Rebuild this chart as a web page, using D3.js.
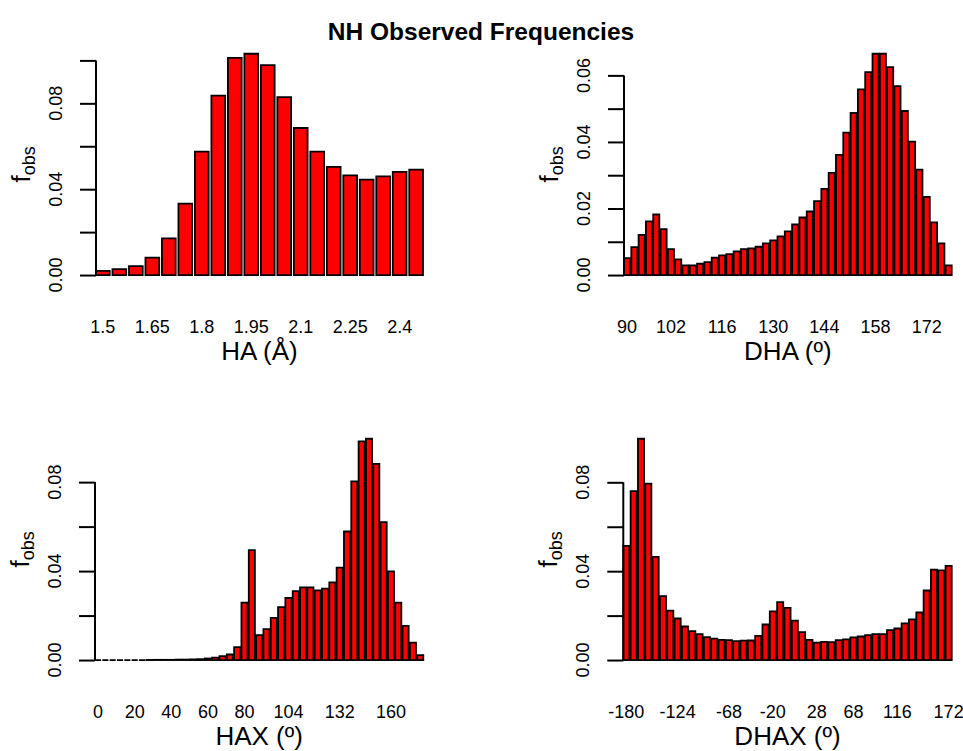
<!DOCTYPE html>
<html lang="en">
<head>
  <meta charset="UTF-8">
  <title>NH Observed Frequencies</title>
  <script src="https://d3js.org/d3.v7.min.js"></script>
  <style>
    body { margin: 0; padding: 0; background: #fff; }
    svg { display: block; }
    text { font-family: "Liberation Sans", Arial, Helvetica, sans-serif; fill: #000; }
  </style>
</head>
<body>
<svg id="chart" width="963" height="751"></svg>
<script>
// bins (left edge of each histogram class)
const haBins = ["1.5","1.55","1.6","1.65","1.7","1.75","1.8","1.85","1.9","1.95",
  "2","2.05","2.1","2.15","2.2","2.25","2.3","2.35","2.4","2.45"];
const dhaBins = [90,92,94,96,98,100,102,104,106,108,110,112,114,116,118,120,122,124,126,128,
  130,132,134,136,138,140,142,144,146,148,150,152,154,156,158,160,162,164,166,168,
  170,172,174,176,178];
const haxBins = [0,4,8,12,16,20,24,28,32,36,40,44,48,52,56,60,64,68,72,76,
  80,84,88,92,96,100,104,108,112,116,120,124,128,132,136,140,144,148,152,156,
  160,164,168,172,176];
const dhaxBins = [-180,-172,-164,-156,-148,-140,-132,-124,-116,-108,-100,-92,-84,-76,-68,-60,
  -52,-44,-36,-28,-20,-12,-4,4,12,20,28,36,44,52,60,68,76,84,92,100,108,116,124,132,
  140,148,156,164,172];

// observed frequencies
const haFreq = [0.0019,0.0028,0.0042,0.0081,0.0171,0.0333,0.0575,0.0836,0.1012,0.1031,
  0.0978,0.0829,0.0685,0.0575,0.0504,0.0464,0.0445,0.0460,0.0481,0.0491];
const dhaFreq = [0.0051,0.0084,0.0121,0.0161,0.0182,0.0138,0.0078,0.0047,0.0029,0.0029,
  0.0034,0.0039,0.0052,0.0059,0.0063,0.0071,0.0078,0.0080,0.0085,0.0095,
  0.0104,0.0116,0.0131,0.0152,0.0173,0.0191,0.0222,0.0259,0.0307,0.0361,
  0.0428,0.0487,0.0558,0.0610,0.0665,0.0665,0.0625,0.0568,0.0493,0.0401,
  0.0317,0.0235,0.0158,0.0095,0.0029];
const haxFreq = [0,0,0,0,0,0,0,0.00005,0.0001,0.0001,
  0.0001,0.0002,0.0002,0.0003,0.0004,0.0007,0.0011,0.0018,0.0025,0.0058,
  0.0258,0.0494,0.0112,0.0139,0.0190,0.0238,0.0279,0.0310,0.0327,0.0327,
  0.0313,0.0321,0.0349,0.0416,0.0578,0.0803,0.0983,0.0995,0.0882,0.0620,
  0.0399,0.0258,0.0154,0.0078,0.0022];
const dhaxFreq = [0.0514,0.0760,0.0996,0.0794,0.0464,0.0288,0.0222,0.0187,0.0151,0.0130,
  0.0117,0.0103,0.0096,0.0091,0.0090,0.0085,0.0087,0.0088,0.0109,0.0160,
  0.0219,0.0261,0.0235,0.0177,0.0126,0.0091,0.0078,0.0082,0.0081,0.0090,
  0.0093,0.0102,0.0106,0.0112,0.0117,0.0117,0.0135,0.0142,0.0165,0.0183,
  0.0214,0.0313,0.0407,0.0404,0.0424];

// x tick labels that are printed (the rest are dropped for overlap)
const haTicks = ["1.5","1.65","1.8","1.95","2.1","2.25","2.4"];
const dhaTicks = [90,102,116,130,144,158,172];
const haxTicks = [0,20,40,60,80,104,132,160];
const dhaxTicks = [-180,-124,-68,-20,28,68,116,172];

// y ticks and the ones that carry a label
const yTicksA = [0,0.02,0.04,0.06,0.08,0.10];
const yTicksB = [0,0.01,0.02,0.03,0.04,0.05,0.06];
const yTicksC = [0,0.02,0.04,0.06,0.08];
const yLabelsA = ["0.00","0.04","0.08"];
const yLabelsB = ["0.00","0.02","0.04","0.06"];

const panels = [
  {bins: haBins, values: haFreq, ticks: haTicks, yTicks: yTicksA, yLabels: yLabelsA, title: "HA (Å)", left: 96, right: 423, top: 44.9, bottom: 283.9},
  {bins: dhaBins, values: dhaFreq, ticks: dhaTicks, yTicks: yTicksB, yLabels: yLabelsB, title: "DHA (º)", left: 624, right: 951.7, top: 44.9, bottom: 283.9},
  {bins: haxBins, values: haxFreq, ticks: haxTicks, yTicks: yTicksC, yLabels: yLabelsA, title: "HAX (º)", left: 95, right: 423.3, top: 429.9, bottom: 668.9},
  {bins: dhaxBins, values: dhaxFreq, ticks: dhaxTicks, yTicks: yTicksC, yLabels: yLabelsA, title: "DHAX (º)", left: 623.3, right: 951.7, top: 429.9, bottom: 668.9}
];

const svg = d3.select("#chart");
svg.append("rect").attr("width", 963).attr("height", 751).attr("fill", "#fff");

svg.append("text")
  .attr("x", 481).attr("y", 40)
  .attr("text-anchor", "middle")
  .style("font-size", "24.5px").style("font-weight", "bold")
  .text("NH Observed Frequencies");

panels.forEach(p => {
  const m = d3.max(p.values);
  const x = d3.scaleBand().domain(p.bins.map(String)).range([p.left, p.right])
    .paddingInner(0.2 / 1.2).paddingOuter(0);
  // R style: 4% expansion of the y range
  const y = d3.scaleLinear().domain([-0.04 * m, 1.04 * m]).range([p.bottom, p.top]);
  const g = svg.append("g");

  // paths so that empty classes still show their outline on the base line
  g.selectAll("path.bar")
    .data(p.values)
    .enter().append("path")
    .attr("class", "bar")
    .attr("d", (d, i) => {
      const x0 = x(String(p.bins[i])), x1 = x0 + x.bandwidth();
      return `M${x0},${y(0)}V${y(d)}H${x1}V${y(0)}Z`;
    })
    .attr("fill", "#ff0000")
    .attr("stroke", "#000")
    .attr("stroke-width", 1.8);

  // y axis
  const yAxis = g.append("g")
    .attr("transform", `translate(${p.left},0)`)
    .call(d3.axisLeft(y).tickValues(p.yTicks).tickSize(16).tickSizeOuter(0).tickFormat(""));
  yAxis.select(".domain").remove();
  yAxis.selectAll(".tick line").attr("stroke-width", 2);
  yAxis.append("line")
    .attr("y1", y(0)).attr("y2", y(d3.max(p.yTicks)))
    .attr("stroke", "#000").attr("stroke-width", 2);

  g.selectAll("text.ylab")
    .data(p.yLabels)
    .enter().append("text")
    .attr("class", "ylab")
    .attr("transform", d => `translate(${p.left - 34},${y(+d)}) rotate(-90)`)
    .attr("text-anchor", "middle")
    .style("font-size", "18px")
    .text(d => d);

  // x tick labels
  g.selectAll("text.xlab")
    .data(p.ticks)
    .enter().append("text")
    .attr("class", "xlab")
    .attr("x", d => x(String(d)) + x.bandwidth() / 2)
    .attr("y", y(0) + 58)
    .attr("text-anchor", "middle")
    .style("font-size", "18px")
    .text(d => d);

  // axis title
  g.append("text")
    .attr("x", (p.left + p.right) / 2)
    .attr("y", y(0) + 85)
    .attr("text-anchor", "middle")
    .style("font-size", "26px")
    .text(p.title);

  // f_obs label
  const yl = g.append("text")
    .attr("transform", `translate(${p.left - 66},${(p.top + p.bottom) / 2}) rotate(-90)`)
    .attr("text-anchor", "middle")
    .style("font-size", "26px");
  yl.append("tspan").text("f");
  yl.append("tspan").attr("dy", 5).style("font-size", "18px").text("obs");
});
</script>
</body>
</html>
